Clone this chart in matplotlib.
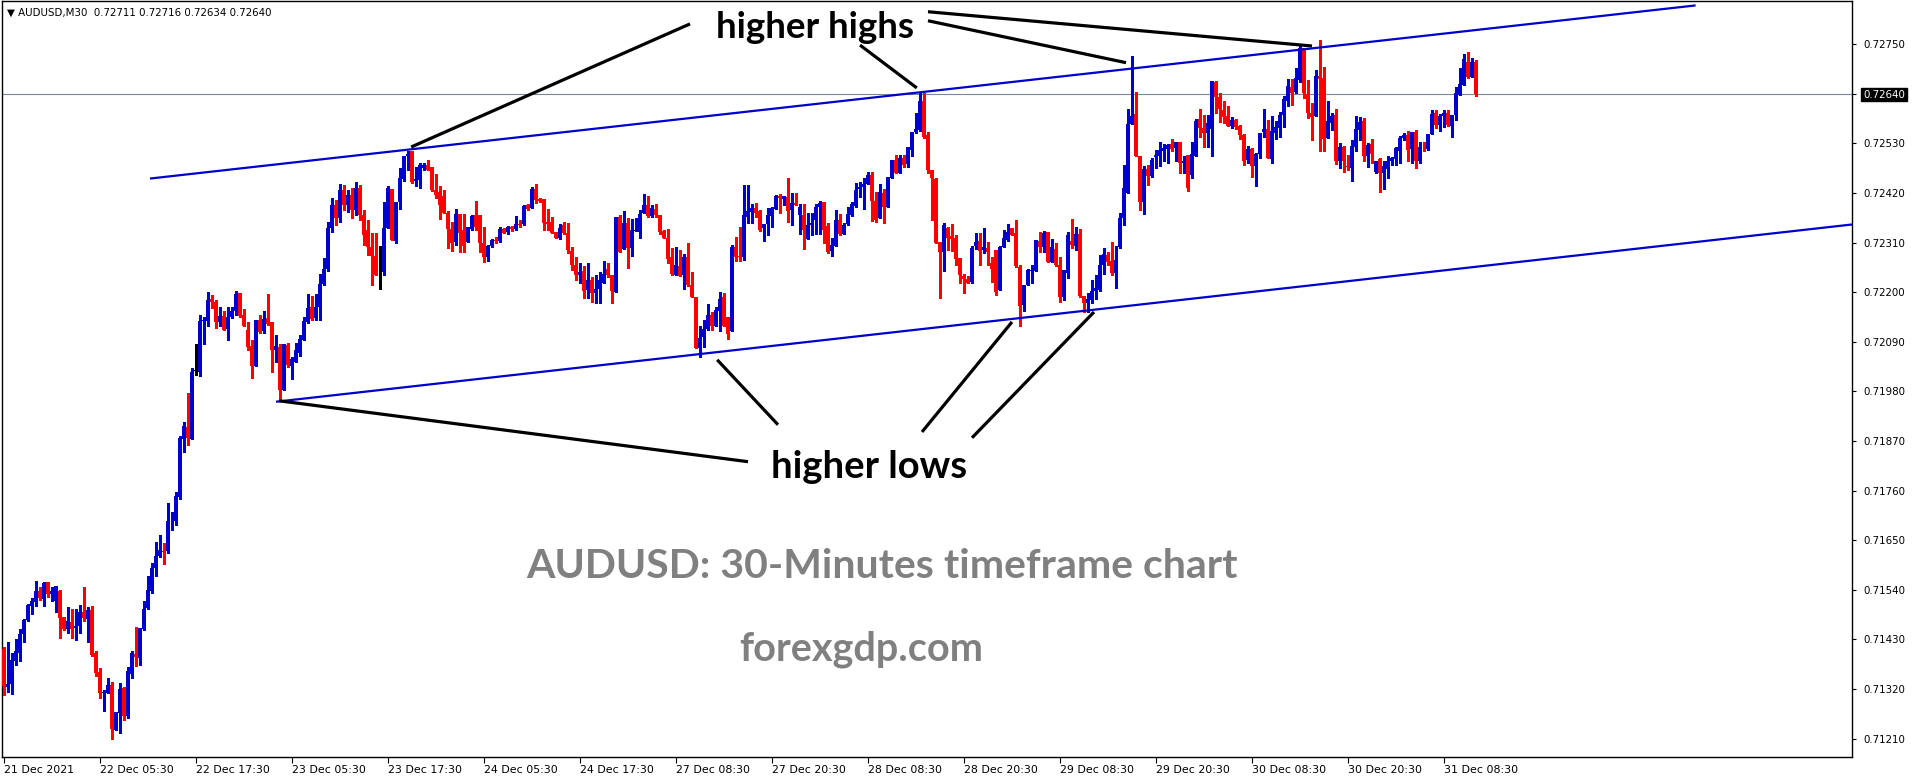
import numpy as np
import matplotlib
matplotlib.use('Agg')
import matplotlib.pyplot as plt

# ---------------- data (prices in points, 1 point = 0.00001) ----------------
open_pts = [
71409,71325,71331,71383,71399,71441,71473,71504,71513,71537,71519,71557,71530,71515,71537,71480,71454,71469,71456,71460,
71490,71475,71495,71400,71358,71312,71310,71329,71228,71267,71322,71259,71354,71398,71389,71454,71500,71538,71588,71615,
71626,71625,71692,71693,71746,71875,71901,71874,72025,72024,72136,72136,72184,72178,72134,72147,72118,72144,72158,72198,
72150,72115,72081,72036,72138,72113,72143,72133,72072,72078,71983,72083,72036,72045,72066,72094,72134,72167,72143,72167,
72218,72252,72342,72393,72365,72427,72393,72416,72382,72431,72371,72338,72300,72280,72242,72244,72342,72429,72314,72401,
72451,72501,72512,72447,72449,72475,72481,72478,72427,72422,72413,72376,72341,72312,72373,72338,72312,72341,72371,72371,
72309,72277,72303,72316,72314,72340,72334,72344,72340,72351,72351,72393,72387,72429,72407,72406,72355,72355,72334,72320,
72350,72331,72291,72260,72238,72246,72205,72226,72199,72207,72220,72252,72238,72201,72367,72296,72354,72297,72336,72334,
72376,72394,72369,72385,72371,72336,72321,72279,72238,72259,72238,72279,72216,72189,72076,72100,72118,72150,72125,72158,
72189,72146,72113,72301,72280,72279,72367,72377,72386,72381,72343,72351,72369,72385,72414,72406,72412,72382,72397,72371,
72371,72318,72348,72359,72388,72399,72347,72292,72303,72359,72330,72351,72371,72392,72429,72433,72441,72460,72402,72364,
72419,72390,72454,72493,72464,72497,72484,72515,72555,72560,72623,72549,72470,72451,72312,72290,72342,72325,72320,72275,
72236,72230,72223,72303,72314,72294,72299,72265,72294,72205,72300,72316,72342,72332,72255,72172,72216,72246,72247,72314,
72300,72334,72268,72295,72260,72189,72243,72314,72303,72329,72192,72175,72183,72203,72205,72260,72283,72269,72243,72301,
72364,72421,72573,72595,72501,72401,72473,72458,72499,72502,72512,72518,72529,72519,72532,72486,72504,72460,72502,72584,
72564,72553,72562,72667,72632,72604,72591,72569,72582,72569,72549,72493,72518,72480,72507,72555,72562,72495,72554,72565,
72593,72625,72655,72643,72671,72741,72640,72598,72591,72680,72676,72543,72576,72593,72490,72523,72480,72476,72523,72560,
72580,72501,72529,72467,72495,72465,72473,72492,72495,72513,72543,72549,72518,72556,72490,72523,72518,72551,72597,72571,
72591,72597,72569,72593,72637,72660,72711,72677,72711]

high_pts = [
71412,71425,71399,71431,71454,71475,71508,71521,71559,71546,71557,71557,71546,71548,71539,71480,71502,71497,71497,71506,
71546,71502,71504,71404,71367,71318,71345,71336,71269,71333,71325,71369,71404,71458,71455,71515,71571,71600,71646,71662,
71644,71733,71713,71756,71881,71912,71977,72032,72085,72150,72145,72200,72194,72183,72166,72158,72166,72168,72203,72198,
72162,72134,72094,72138,72150,72158,72195,72134,72105,72085,72085,72087,72056,72087,72105,72145,72197,72192,72196,72240,
72276,72356,72409,72405,72440,72438,72427,72431,72444,72438,72382,72360,72331,72331,72303,72401,72436,72429,72401,72476,
72503,72514,72514,72478,72487,72487,72494,72478,72461,72436,72426,72380,72356,72385,72373,72373,72345,72371,72403,72371,
72345,72305,72317,72322,72345,72343,72347,72347,72369,72360,72393,72396,72433,72440,72409,72406,72385,72366,72334,72351,
72355,72354,72301,72279,72265,72257,72264,72234,72238,72245,72269,72265,72238,72367,72371,72379,72364,72362,72364,72382,
72418,72414,72393,72396,72371,72338,72340,72297,72300,72294,72284,72308,72245,72189,72124,72138,72174,72157,72166,72200,
72198,72146,72305,72322,72345,72438,72438,72396,72397,72382,72351,72387,72388,72416,72417,72413,72454,72419,72419,72396,
72396,72375,72376,72396,72403,72399,72353,72320,72382,72373,72353,72390,72401,72442,72445,72453,72467,72466,72422,72439,
72428,72456,72493,72504,72504,72504,72523,72556,72597,72641,72641,72556,72471,72453,72312,72353,72345,72351,72327,72275,
72240,72236,72303,72332,72331,72343,72312,72279,72294,72303,72338,72351,72342,72360,72260,72216,72251,72260,72316,72334,
72336,72334,72317,72310,72279,72249,72334,72362,72345,72340,72192,72199,72226,72238,72283,72299,72290,72312,72303,72375,
72482,72606,72724,72645,72502,72480,72482,72497,72515,72532,72529,72529,72540,72534,72532,72501,72504,72532,72584,72606,
72593,72593,72669,72669,72641,72623,72613,72589,72584,72571,72550,72524,72519,72508,72554,72606,72582,72591,72580,72600,
72635,72672,72672,72697,72745,72741,72671,72620,72693,72760,72699,72625,72598,72606,72530,72524,72504,72538,72591,72589,
72586,72530,72539,72490,72497,72490,72501,72499,72522,72547,72553,72558,72556,72560,72534,72534,72551,72603,72603,72595,
72603,72603,72593,72656,72697,72728,72732,72719,72716]

low_pts = [
71307,71314,71309,71374,71381,71423,71471,71486,71504,71517,71504,71524,71515,71490,71432,71451,71445,71434,71428,71444,
71471,71424,71393,71348,71299,71272,71310,71208,71228,71223,71252,71256,71345,71370,71374,71451,71498,71532,71571,71613,
71596,71622,71673,71684,71742,71846,71860,71874,72016,72014,72084,72126,72164,72121,72124,72116,72094,72143,72150,72146,
72124,72072,72010,72036,72110,72110,72127,72023,72045,71959,71982,72034,72008,72045,72059,72094,72132,72138,72138,72138,
72216,72247,72333,72349,72356,72382,72378,72365,72371,72360,72305,72283,72216,72237,72207,72237,72342,72316,72310,72385,
72447,72471,72442,72435,72432,72470,72471,72425,72408,72363,72376,72299,72292,72305,72290,72290,72312,72338,72338,72288,
72268,72270,72301,72310,72311,72331,72329,72336,72338,72345,72349,72382,72386,72397,72400,72338,72338,72331,72320,72318,
72329,72286,72249,72227,72220,72187,72187,72179,72175,72175,72220,72234,72175,72201,72290,72296,72254,72280,72336,72320,
72375,72366,72366,72367,72329,72320,72264,72238,72238,72235,72206,72214,72189,72076,72056,72078,72116,72116,72124,72114,
72125,72096,72113,72270,72270,72271,72354,72354,72367,72336,72314,72327,72345,72385,72376,72393,72356,72348,72393,72329,
72296,72318,72327,72329,72329,72309,72286,72280,72303,72327,72329,72349,72370,72390,72412,72385,72441,72358,72356,72364,
72353,72390,72454,72464,72464,72478,72478,72502,72554,72558,72541,72464,72360,72310,72187,72246,72294,72292,72260,72220,
72198,72220,72221,72295,72260,72286,72260,72223,72194,72205,72300,72314,72327,72255,72125,72159,72216,72220,72246,72288,
72288,72268,72268,72258,72179,72183,72231,72297,72294,72189,72157,72157,72177,72184,72203,72240,72260,72238,72209,72298,
72349,72421,72573,72501,72382,72373,72438,72456,72475,72480,72490,72486,72512,72490,72465,72465,72425,72453,72502,72544,
72522,72522,72501,72598,72578,72576,72569,72565,72561,72539,72482,72486,72456,72436,72497,72545,72497,72487,72540,72544,
72566,72612,72615,72641,72667,72630,72586,72538,72591,72514,72514,72541,72560,72484,72475,72467,72471,72447,72512,72538,
72490,72478,72486,72464,72423,72429,72453,72482,72482,72487,72538,72492,72486,72475,72486,72514,72515,72551,72564,72558,
72566,72569,72544,72582,72637,72660,72674,72677,72634]

close_pts = [
71327,71331,71385,71403,71442,71473,71506,71515,71537,71522,71555,71531,71537,71548,71478,71454,71471,71454,71460,71490,
71477,71495,71396,71356,71312,71314,71329,71230,71269,71320,71261,71360,71400,71391,71455,71498,71539,71588,71615,71628,
71624,71693,71693,71749,71877,71904,71877,72024,72025,72136,72138,72183,72178,72134,72147,72116,72146,72158,72196,72148,
72126,72079,72036,72138,72112,72141,72129,72072,72081,71983,72085,72039,72052,72072,72096,72136,72165,72141,72167,72218,
72252,72342,72393,72365,72427,72393,72416,72382,72431,72371,72327,72300,72280,72238,72242,72342,72431,72316,72401,72454,
72501,72507,72444,72451,72483,72481,72471,72427,72416,72394,72376,72341,72308,72373,72332,72303,72345,72369,72345,72309,
72277,72303,72316,72314,72340,72332,72344,72340,72351,72349,72391,72385,72429,72405,72402,72354,72351,72332,72320,72342,
72331,72294,72260,72238,72245,72203,72227,72199,72207,72226,72240,72238,72202,72367,72290,72354,72299,72338,72338,72373,
72393,72369,72387,72371,72334,72321,72274,72240,72260,72236,72277,72216,72189,72076,72098,72118,72150,72125,72161,72185,
72125,72107,72301,72279,72279,72371,72379,72386,72376,72338,72351,72371,72387,72414,72408,72413,72381,72398,72393,72390,
72338,72350,72353,72388,72398,72338,72290,72305,72360,72329,72350,72373,72396,72427,72433,72441,72460,72402,72360,72422,
72390,72455,72493,72464,72497,72482,72521,72555,72562,72623,72544,72470,72453,72310,72290,72349,72321,72318,72273,72238,
72229,72221,72299,72312,72292,72301,72288,72251,72201,72301,72320,72334,72327,72258,72170,72216,72249,72249,72316,72300,
72332,72268,72301,72260,72190,72249,72327,72305,72329,72192,72175,72184,72203,72209,72260,72285,72268,72242,72271,72364,
72430,72573,72591,72501,72401,72473,72458,72493,72504,72515,72519,72527,72517,72532,72487,72492,72432,72507,72580,72564,
72553,72575,72669,72632,72606,72588,72569,72582,72567,72549,72492,72518,72480,72507,72553,72562,72497,72558,72567,72593,
72629,72658,72641,72676,72741,72641,72597,72589,72680,72672,72540,72580,72591,72490,72523,72490,72478,72524,72561,72578,
72501,72527,72507,72490,72465,72480,72490,72497,72519,72543,72549,72516,72556,72492,72523,72521,72551,72595,72571,72591,
72597,72571,72593,72641,72662,72717,72677,72711,72640]

last_price = 0.72640
header_values = ["0.72711", "0.72716", "0.72634", "0.72640"]

ytick_values = [0.71210, 0.71320, 0.71430, 0.71540, 0.71650, 0.71760, 0.71870, 0.71980,
                0.72090, 0.72200, 0.72310, 0.72420, 0.72530, 0.72640, 0.72750]
xtick_bars = [0, 24, 48, 72, 96, 120, 144, 168, 192, 216, 240, 264, 288, 312, 336, 360]
xtick_labels = ["21 Dec 2021", "22 Dec 05:30", "22 Dec 17:30", "23 Dec 05:30", "23 Dec 17:30",
                "24 Dec 05:30", "24 Dec 17:30", "27 Dec 08:30", "27 Dec 20:30", "28 Dec 08:30",
                "28 Dec 20:30", "29 Dec 08:30", "29 Dec 20:30", "30 Dec 08:30", "30 Dec 20:30",
                "31 Dec 08:30"]

# channel trend lines (bar index, price)
upper_line_bars = [36.6, 423.0]
upper_line_prices = [0.72452, 0.72836]
lower_line_bars = [68.1, 470.0]
lower_line_prices = [0.71957, 0.72358]

# ---------------- figure ----------------
W, H = 1916, 781
fig = plt.figure(figsize=(W / 100, H / 100), dpi=100)
fig.patch.set_facecolor('white')
ax = fig.add_axes([2 / W, 24 / H, 1850 / W, 756 / H])

o = np.array(open_pts) / 1e5
h = np.array(high_pts) / 1e5
l = np.array(low_pts) / 1e5
c = np.array(close_pts) / 1e5
x = np.arange(len(c))

BLUE = '#0000CD'
RED = '#FF0000'
colors = np.where(c > o, BLUE, np.where(c < o, RED, '#000000'))

ax.vlines(x, l, h, colors=colors, linewidth=0.75, antialiased=False, zorder=3)
body_bottom = np.minimum(o, c)
body_h = np.maximum(np.abs(c - o), 0.000015)
ax.bar(x, body_h, bottom=body_bottom, width=0.75, color=colors, linewidth=0,
       antialiased=False, zorder=4)

ax.set_xlim(-0.4, 462.1)
ax.set_ylim(0.711690, 0.728458)

# current price line
ax.axhline(last_price, color='#778899', linewidth=0.8, zorder=2)

# channel lines
ax.plot(upper_line_bars, upper_line_prices, color=BLUE, linewidth=1.6, zorder=5, solid_capstyle='butt')
ax.plot(lower_line_bars, lower_line_prices, color=BLUE, linewidth=1.6, zorder=5, solid_capstyle='butt')

# annotation pointer lines (bar index, price)
pointer_lines = [
    ((171.6, 0.72795), (101.9, 0.72522)),
    ((214.1, 0.72748), (228.3, 0.72653)),
    ((231.1, 0.72802), (280.6, 0.72709)),
    ((231.1, 0.72822), (327.1, 0.72746)),
    ((186.1, 0.71824), (68.9, 0.71959)),
    ((193.6, 0.71906), (178.4, 0.72050)),
    ((229.6, 0.71890), (252.1, 0.72134)),
    ((242.1, 0.71877), (272.6, 0.72156)),
]
for (x0, y0), (x1, y1) in pointer_lines:
    ax.plot([x0, x1], [y0, y1], color='black', linewidth=2.3, zorder=6, solid_capstyle='butt')

bold_font = 'Lato'
ax.text(0.4395, 0.9650, 'higher highs', transform=ax.transAxes, ha='center', va='center',
        fontsize=26.5, fontweight='bold', family=bold_font, color='black', zorder=7)
ax.text(0.4686, 0.3836, 'higher lows', transform=ax.transAxes, ha='center', va='center',
        fontsize=27.5, fontweight='bold', family=bold_font, color='black', zorder=7)
ax.text(0.4757, 0.2526, 'AUDUSD: 30-Minutes timeframe chart', transform=ax.transAxes,
        ha='center', va='center', fontsize=29.5, fontweight='bold', family=bold_font,
        color='#808080', zorder=7)
ax.text(0.4643, 0.1429, 'forexgdp.com', transform=ax.transAxes, ha='center', va='center',
        fontsize=28.5, fontweight='bold', family=bold_font, color='#808080', zorder=7)

# header
ax.text(0.0027, 0.985, '\u25BC AUDUSD,M30  ' + ' '.join(header_values), transform=ax.transAxes,
        ha='left', va='center', fontsize=7.4, family='DejaVu Sans', color='black', zorder=7)

# axes styling
for s in ax.spines.values():
    s.set_color('black')
    s.set_linewidth(1.0)

ax.yaxis.tick_right()
ax.set_yticks(ytick_values)
ax.set_yticklabels(['%.5f' % v for v in ytick_values])
ax.tick_params(axis='y', which='both', direction='out', length=3, width=0.8, pad=5,
               labelsize=7.4, labelcolor='black', left=False, right=True,
               labelleft=False, labelright=True)
ax.set_xticks(xtick_bars)
ax.set_xticklabels(xtick_labels)
ax.tick_params(axis='x', direction='out', length=4, width=0.8, pad=2, labelsize=7.9,
               labelcolor='black')
for lbl in ax.get_xticklabels():
    lbl.set_horizontalalignment('left')
for lbl, v in zip(ax.get_yticklabels(), ytick_values):
    if abs(v - last_price) < 1e-9:
        lbl.set_color('white')
        lbl.set_bbox(dict(facecolor='black', edgecolor='black', pad=1.2))

fig.savefig('out.png', dpi=100, facecolor='white')
